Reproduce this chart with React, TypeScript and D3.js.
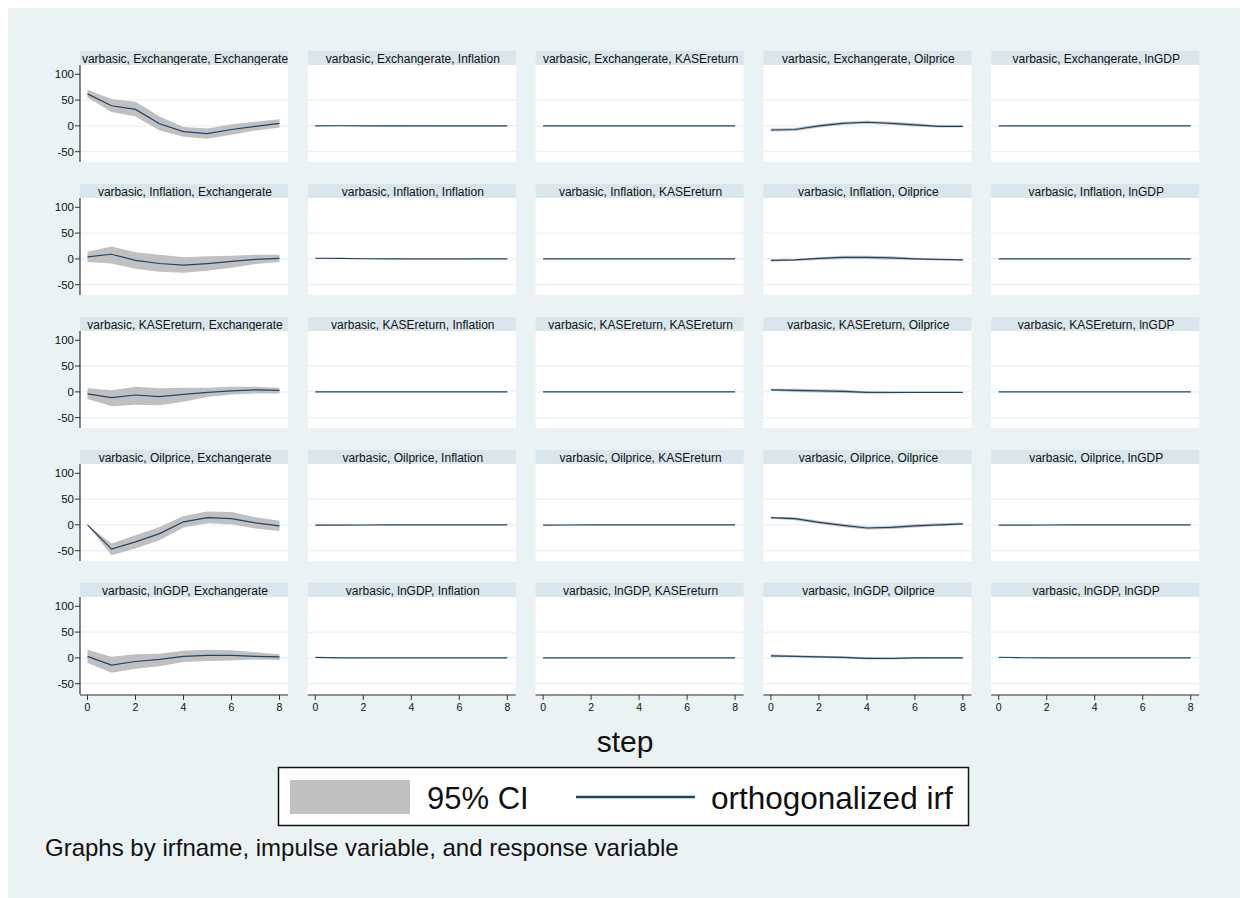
import React from "react";
import * as d3 from "d3";

// ---------- data ----------
const variables = ["Exchangerate", "Inflation", "KASEreturn", "Oilprice", "lnGDP"];
const steps = [0, 1, 2, 3, 4, 5, 6, 7, 8];
const xTicks = [0, 2, 4, 6, 8];
const yTicks = [100, 50, 0, -50];
const gridTicks = [50, 0, -50];
const legendLabels = ["95% CI", "orthogonalized irf"];
const xTitle = "step";
const note = "Graphs by irfname, impulse variable, and response variable";

// impulse Exchangerate
const irf_Ex_Ex = [62, 39, 32, 4, -11, -15, -7, -1, 5];
const lo_Ex_Ex = [55, 27, 18, -9, -21, -25, -17, -9, -3];
const hi_Ex_Ex = [70, 52, 47, 18, -2, -5, 3, 8, 13];
const irf_Ex_In = [0.2, 0.3, 0.2, 0.1, 0, -0.1, 0, 0, 0];
const lo_Ex_In = [-0.4, -0.3, -0.4, -0.5, -0.6, -0.6, -0.5, -0.5, -0.5];
const hi_Ex_In = [0.8, 0.9, 0.8, 0.7, 0.6, 0.4, 0.5, 0.5, 0.5];
const irf_Ex_Ka = [0.1, 0.1, 0, 0, 0, 0, 0, 0, 0];
const lo_Ex_Ka = [-0.3, -0.3, -0.3, -0.3, -0.3, -0.3, -0.3, -0.3, -0.3];
const hi_Ex_Ka = [0.5, 0.5, 0.3, 0.3, 0.3, 0.3, 0.3, 0.3, 0.3];
const irf_Ex_Oi = [-8, -7, 0, 5, 7, 5, 2, -1, -1];
const lo_Ex_Oi = [-11, -10, -3, 2, 4, 2, -1, -3, -3];
const hi_Ex_Oi = [-5, -4, 3, 8, 10, 8, 5, 1, 1];
const irf_Ex_Gd = [0.1, 0.1, 0.1, 0, 0, 0, 0, 0, 0];
const lo_Ex_Gd = [-0.3, -0.3, -0.3, -0.3, -0.3, -0.3, -0.3, -0.3, -0.3];
const hi_Ex_Gd = [0.5, 0.5, 0.4, 0.3, 0.3, 0.3, 0.3, 0.3, 0.3];

// impulse Inflation
const irf_In_Ex = [4, 9, -3, -9, -12, -9, -5, -1, 1];
const lo_In_Ex = [-6, -9, -19, -25, -27, -23, -17, -10, -6];
const hi_In_Ex = [14, 24, 13, 8, 3, 5, 6, 8, 8];
const irf_In_In = [1.2, 0.9, 0.3, 0.1, 0, -0.1, -0.1, 0, 0];
const lo_In_In = [0.9, 0.5, -0.2, -0.4, -0.5, -0.6, -0.5, -0.4, -0.4];
const hi_In_In = [1.5, 1.3, 0.8, 0.6, 0.5, 0.4, 0.3, 0.4, 0.4];
const irf_In_Ka = [0, 0.1, 0, 0, 0, 0, 0, 0, 0];
const lo_In_Ka = [-0.3, -0.3, -0.3, -0.3, -0.3, -0.3, -0.3, -0.3, -0.3];
const hi_In_Ka = [0.3, 0.5, 0.3, 0.3, 0.3, 0.3, 0.3, 0.3, 0.3];
const irf_In_Oi = [-3, -2, 1, 3, 3, 2, 0, -1, -2];
const lo_In_Oi = [-5, -4, -2, 0, 0, -1, -2, -3, -3];
const hi_In_Oi = [-1, 0, 3, 6, 6, 5, 2, 0, -1];
const irf_In_Gd = [0, 0, 0, 0, 0, 0, 0, 0, 0];
const lo_In_Gd = [-0.3, -0.3, -0.3, -0.3, -0.3, -0.3, -0.3, -0.3, -0.3];
const hi_In_Gd = [0.3, 0.3, 0.3, 0.3, 0.3, 0.3, 0.3, 0.3, 0.3];

// impulse KASEreturn
const irf_Ka_Ex = [-4, -11, -6, -9, -5, -1, 2, 4, 3];
const lo_Ka_Ex = [-14, -28, -25, -26, -19, -10, -5, -3, -3];
const hi_Ka_Ex = [7, 3, 10, 7, 8, 8, 10, 10, 8];
const irf_Ka_In = [0.1, 0.1, 0.1, 0, 0, 0, 0, 0, 0];
const lo_Ka_In = [-0.3, -0.3, -0.3, -0.3, -0.3, -0.3, -0.3, -0.3, -0.3];
const hi_Ka_In = [0.4, 0.4, 0.4, 0.3, 0.3, 0.3, 0.3, 0.3, 0.3];
const irf_Ka_Ka = [0.2, 0, 0, 0, 0, 0, 0, 0, 0];
const lo_Ka_Ka = [-0.2, -0.3, -0.3, -0.3, -0.3, -0.3, -0.3, -0.3, -0.3];
const hi_Ka_Ka = [0.6, 0.3, 0.3, 0.3, 0.3, 0.3, 0.3, 0.3, 0.3];
const irf_Ka_Oi = [4, 3, 2, 1, -1, -1, -1, -1, -1];
const lo_Ka_Oi = [2, 0, -1, -2, -3, -3, -2, -2, -2];
const hi_Ka_Oi = [6, 6, 5, 4, 1, 0, 0, 0, 0];
const irf_Ka_Gd = [0, 0, 0, 0, 0, 0, 0, 0, 0];
const lo_Ka_Gd = [-0.3, -0.3, -0.3, -0.3, -0.3, -0.3, -0.3, -0.3, -0.3];
const hi_Ka_Gd = [0.3, 0.3, 0.3, 0.3, 0.3, 0.3, 0.3, 0.3, 0.3];

// impulse Oilprice
const irf_Oi_Ex = [0, -47, -33, -17, 6, 14, 12, 4, -2];
const lo_Oi_Ex = [0, -59, -46, -30, -5, 3, 1, -7, -12];
const hi_Oi_Ex = [0, -36, -20, -4, 17, 26, 25, 15, 8];
const irf_Oi_In = [-0.4, -0.3, -0.2, -0.1, 0, 0, 0, 0, 0];
const lo_Oi_In = [-0.8, -0.7, -0.6, -0.5, -0.4, -0.4, -0.4, -0.4, -0.4];
const hi_Oi_In = [0, 0.1, 0.2, 0.3, 0.4, 0.4, 0.4, 0.4, 0.4];
const irf_Oi_Ka = [-0.3, -0.2, -0.1, 0, 0, 0, 0, 0, 0];
const lo_Oi_Ka = [-0.6, -0.5, -0.4, -0.3, -0.3, -0.3, -0.3, -0.3, -0.3];
const hi_Oi_Ka = [0, 0.1, 0.2, 0.3, 0.3, 0.3, 0.3, 0.3, 0.3];
const irf_Oi_Oi = [14, 12, 5, -1, -6, -5, -2, 0, 2];
const lo_Oi_Oi = [12, 9, 2, -4, -9, -8, -5, -2, 0];
const hi_Oi_Oi = [16, 15, 8, 2, -3, -2, 1, 3, 4];
const irf_Oi_Gd = [-0.3, -0.3, -0.2, -0.1, 0, 0, 0, 0, 0];
const lo_Oi_Gd = [-0.6, -0.6, -0.5, -0.4, -0.3, -0.3, -0.3, -0.3, -0.3];
const hi_Oi_Gd = [0, 0, 0.1, 0.2, 0.3, 0.3, 0.3, 0.3, 0.3];

// impulse lnGDP
const irf_Gd_Ex = [3, -14, -7, -3, 3, 5, 5, 3, 2];
const lo_Gd_Ex = [-10, -29, -21, -16, -8, -6, -5, -3, -4];
const hi_Gd_Ex = [16, 2, 7, 8, 14, 16, 15, 11, 7];
const irf_Gd_In = [1.0, 0.2, 0.1, 0, 0, 0, 0, 0, 0];
const lo_Gd_In = [0.7, -0.2, -0.3, -0.3, -0.3, -0.3, -0.3, -0.3, -0.3];
const hi_Gd_In = [1.3, 0.6, 0.5, 0.3, 0.3, 0.3, 0.3, 0.3, 0.3];
const irf_Gd_Ka = [0.1, 0, 0, 0, 0, 0, 0, 0, 0];
const lo_Gd_Ka = [-0.3, -0.3, -0.3, -0.3, -0.3, -0.3, -0.3, -0.3, -0.3];
const hi_Gd_Ka = [0.5, 0.3, 0.3, 0.3, 0.3, 0.3, 0.3, 0.3, 0.3];
const irf_Gd_Oi = [4, 3, 2, 1, -1, -1, 0, 0, 0];
const lo_Gd_Oi = [1, 1, 0, -1, -3, -3, -2, -1, -1];
const hi_Gd_Oi = [7, 5, 4, 3, 1, 0, 1, 1, 1];
const irf_Gd_Gd = [1.2, 0.3, 0.1, 0.1, 0, 0, 0, 0, 0];
const lo_Gd_Gd = [0.9, -0.1, -0.2, -0.2, -0.3, -0.3, -0.3, -0.3, -0.3];
const hi_Gd_Gd = [1.5, 0.7, 0.4, 0.4, 0.3, 0.3, 0.3, 0.3, 0.3];

const panelRows = [
  [[irf_Ex_Ex, lo_Ex_Ex, hi_Ex_Ex], [irf_Ex_In, lo_Ex_In, hi_Ex_In], [irf_Ex_Ka, lo_Ex_Ka, hi_Ex_Ka], [irf_Ex_Oi, lo_Ex_Oi, hi_Ex_Oi], [irf_Ex_Gd, lo_Ex_Gd, hi_Ex_Gd]],
  [[irf_In_Ex, lo_In_Ex, hi_In_Ex], [irf_In_In, lo_In_In, hi_In_In], [irf_In_Ka, lo_In_Ka, hi_In_Ka], [irf_In_Oi, lo_In_Oi, hi_In_Oi], [irf_In_Gd, lo_In_Gd, hi_In_Gd]],
  [[irf_Ka_Ex, lo_Ka_Ex, hi_Ka_Ex], [irf_Ka_In, lo_Ka_In, hi_Ka_In], [irf_Ka_Ka, lo_Ka_Ka, hi_Ka_Ka], [irf_Ka_Oi, lo_Ka_Oi, hi_Ka_Oi], [irf_Ka_Gd, lo_Ka_Gd, hi_Ka_Gd]],
  [[irf_Oi_Ex, lo_Oi_Ex, hi_Oi_Ex], [irf_Oi_In, lo_Oi_In, hi_Oi_In], [irf_Oi_Ka, lo_Oi_Ka, hi_Oi_Ka], [irf_Oi_Oi, lo_Oi_Oi, hi_Oi_Oi], [irf_Oi_Gd, lo_Oi_Gd, hi_Oi_Gd]],
  [[irf_Gd_Ex, lo_Gd_Ex, hi_Gd_Ex], [irf_Gd_In, lo_Gd_In, hi_Gd_In], [irf_Gd_Ka, lo_Gd_Ka, hi_Gd_Ka], [irf_Gd_Oi, lo_Gd_Oi, hi_Gd_Oi], [irf_Gd_Gd, lo_Gd_Gd, hi_Gd_Gd]],
];

// ---------- styling / layout ----------
const FONT = "'Liberation Sans', Arial, Helvetica, sans-serif";
const BG = "#EAF2F3";
const STRIP = "#D9E6EB";
const CI = "#C0C0C0";
const LINE = "#1A476F";

const W = 1240;
const H = 898;
const colLeft0 = 80;
const colStep = 227.8;
const plotW = 208;
const rowTop0 = 51;
const rowStep = 133;
const stripH = 14;
const plotH = 97;

export default function App() {
  const x = d3.scaleLinear().domain([0, 8]).range([7.5, plotW - 8.5]);
  const y = d3.scaleLinear().domain([-70, 118]).range([plotH, 0]);
  const line = d3.line<number>().x((_, i) => x(steps[i])).y((d) => y(d));
  const area = (lo: number[], hi: number[]) =>
    d3
      .area<number>()
      .x((_, i) => x(steps[i]))
      .y0((_, i) => y(lo[i]))
      .y1((_, i) => y(hi[i]))(steps);

  const panels: React.ReactNode[] = [];
  panelRows.forEach((row, r) => {
    row.forEach(([irf, lo, hi], c) => {
      const left = colLeft0 + c * colStep;
      const top = rowTop0 + r * rowStep;
      const title = `varbasic, ${variables[r]}, ${variables[c]}`;
      panels.push(
        <g key={`${r}-${c}`} transform={`translate(${left},${top})`}>
          <rect x={0} y={0} width={plotW} height={stripH} fill={STRIP} />
          <text
            x={plotW / 2 + 1}
            y={stripH / 2 + 0.5}
            textAnchor="middle"
            dominantBaseline="central"
            fontSize={12}
            fill="#111"
          >
            {title}
          </text>
          <g transform={`translate(0,${stripH})`}>
            <rect x={0} y={0} width={plotW} height={plotH} fill="#fff" />
            {gridTicks.map((t) => (
              <line key={t} x1={0} x2={plotW} y1={y(t)} y2={y(t)} stroke={BG} strokeWidth={1.2} />
            ))}
            <path d={area(lo, hi) || ""} fill={CI} stroke="none" />
            <path d={line(irf) || ""} fill="none" stroke={LINE} strokeWidth={1.2} />
            {c === 0 && (
              <g>
                <line x1={0} x2={0} y1={0} y2={plotH} stroke="#333" strokeWidth={1.2} />
                {yTicks.map((t) => (
                  <g key={t}>
                    <line x1={-5} x2={0} y1={y(t)} y2={y(t)} stroke="#333" strokeWidth={1} />
                    <text
                      x={-6}
                      y={y(t)}
                      textAnchor="end"
                      dominantBaseline="central"
                      fontSize={11.5}
                      fill="#111"
                    >
                      {t}
                    </text>
                  </g>
                ))}
              </g>
            )}
            {r === panelRows.length - 1 && (
              <g transform={`translate(0,${plotH + 1})`}>
                <line x1={0} x2={plotW} y1={0} y2={0} stroke="#333" strokeWidth={1.2} />
                {xTicks.map((t) => (
                  <g key={t}>
                    <line x1={x(t)} x2={x(t)} y1={0} y2={5} stroke="#333" strokeWidth={1} />
                    <text x={x(t)} y={16} textAnchor="middle" fontSize={10.5} fill="#111">
                      {t}
                    </text>
                  </g>
                ))}
              </g>
            )}
          </g>
        </g>
      );
    });
  });

  return (
    <svg
      width={W}
      height={H}
      style={{ position: "fixed", left: 0, top: 0, fontFamily: FONT }}
    >
      <rect x={0} y={0} width={W} height={H} fill="#fff" />
      <rect x={8} y={8} width={W - 8} height={H - 8} fill={BG} />
      {panels}
      <text x={625} y={752} textAnchor="middle" fontSize={30} fill="#111">
        {xTitle}
      </text>
      <g>
        <rect x={278.5} y={767.5} width={690} height={58} fill="#fff" stroke="#111" strokeWidth={1.5} />
        <rect x={290} y={780} width={120} height={34} fill={CI} />
        <text x={427} y={808.5} fontSize={31} fill="#111">
          {legendLabels[0]}
        </text>
        <line x1={576} x2={695} y1={797} y2={797} stroke={LINE} strokeWidth={2.5} />
        <text x={711} y={808.5} fontSize={31.5} fill="#111">
          {legendLabels[1]}
        </text>
      </g>
      <text x={45} y={856} fontSize={24} fill="#111">
        {note}
      </text>
    </svg>
  );
}
